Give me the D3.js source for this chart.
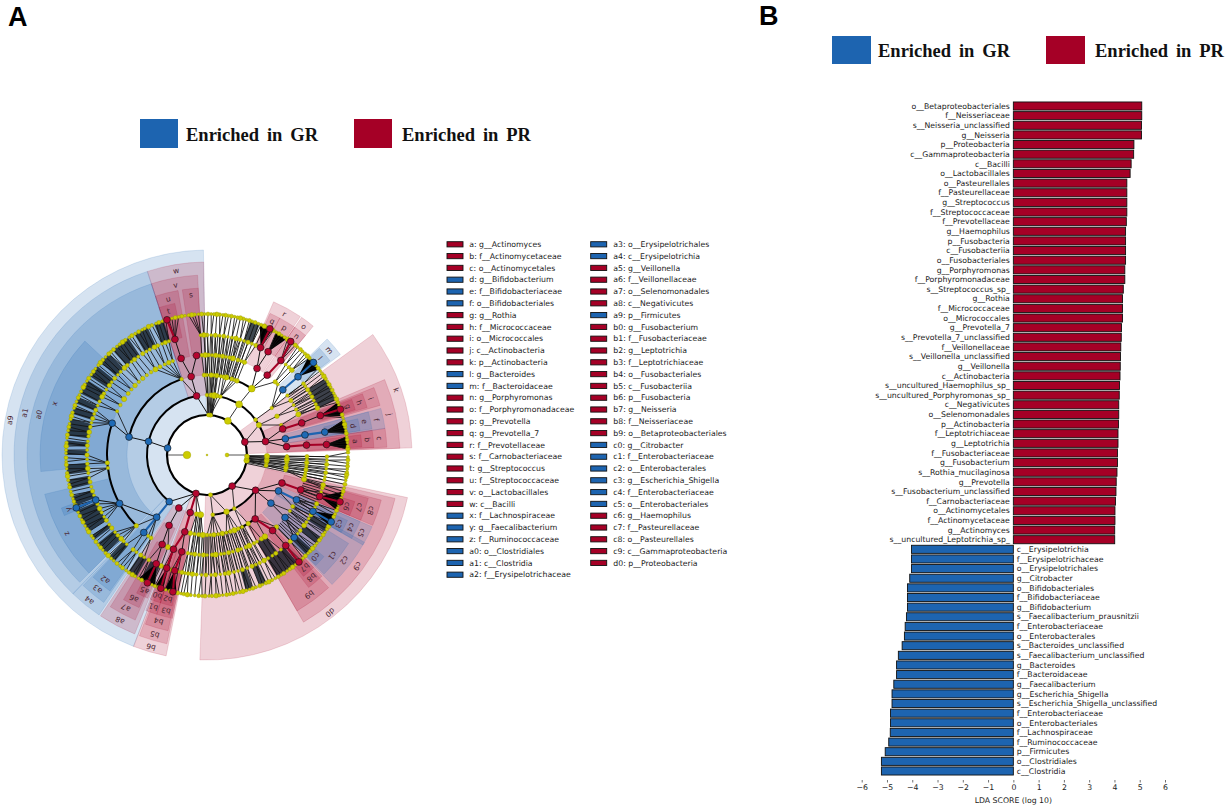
<!DOCTYPE html>
<html><head><meta charset="utf-8">
<script src="https://cdn.jsdelivr.net/npm/d3@7"></script>
<style>html,body{margin:0;padding:0;background:#fff}svg{display:block}text{font-family:"DejaVu Sans",sans-serif}</style>
</head><body><svg id="c" width="1225" height="805"></svg>
<script>
// ---------- Panel B data ----------
const prLabels=["o__Betaproteobacteriales","f__Neisseriaceae","s__Neisseria_unclassified","g__Neisseria","p__Proteobacteria","c__Gammaproteobacteria","c__Bacilli","o__Lactobacillales","o__Pasteurellales","f__Pasteurellaceae","g__Streptococcus","f__Streptococcaceae","f__Prevotellaceae","g__Haemophilus","p__Fusobacteria","c__Fusobacteriia","o__Fusobacteriales","g__Porphyromonas","f__Porphyromonadaceae","s__Streptococcus_sp_","g__Rothia","f__Micrococcaceae","o__Micrococcales","g__Prevotella_7","s__Prevotella_7_unclassified","f__Veillonellaceae","s__Veillonella_unclassified","g__Veillonella","c__Actinobacteria","s__uncultured_Haemophilus_sp_","s__uncultured_Porphyromonas_sp_","c__Negativicutes","o__Selenomonadales","p__Actinobacteria","f__Leptotrichiaceae","g__Leptotrichia","f__Fusobacteriaceae","g__Fusobacterium","s__Rothia_mucilaginosa","g__Prevotella","s__Fusobacterium_unclassified","f__Carnobacteriaceae","o__Actinomycetales","f__Actinomycetaceae","g__Actinomyces","s__uncultured_Leptotrichia_sp_"];
const prValues=[5.08,5.08,5.07,5.07,4.77,4.76,4.66,4.62,4.49,4.49,4.49,4.49,4.47,4.44,4.44,4.44,4.44,4.41,4.41,4.35,4.32,4.32,4.32,4.28,4.27,4.25,4.24,4.23,4.22,4.2,4.19,4.17,4.17,4.16,4.14,4.14,4.12,4.12,4.1,4.07,4.06,4.04,4.02,4.02,4.01,4.01];
const grLabels=["c__Erysipelotrichia","f__Erysipelotrichaceae","o__Erysipelotrichales","g__Citrobacter","o__Bifidobacteriales","f__Bifidobacteriaceae","g__Bifidobacterium","s__Faecalibacterium_prausnitzii","f__Enterobacteriaceae","o__Enterobacterales","s__Bacteroides_unclassified","s__Faecalibacterium_unclassified","g__Bacteroides","f__Bacteroidaceae","g__Faecalibacterium","g__Escherichia_Shigella","s__Escherichia_Shigella_unclassified","f__Enterobacteriaceae","o__Enterobacteriales","f__Lachnospiraceae","f__Ruminococcaceae","p__Firmicutes","o__Clostridiales","c__Clostridia"];
const grValues=[-4.03,-4.03,-4.03,-4.1,-4.19,-4.19,-4.19,-4.23,-4.28,-4.31,-4.4,-4.55,-4.62,-4.62,-4.73,-4.8,-4.8,-4.86,-4.86,-4.87,-4.93,-5.07,-5.22,-5.22];
const ldaTicks=[-6,-5,-4,-3,-2,-1,0,1,2,3,4,5,6];

// ---------- Panel A legend ----------
const legendCol1=[["a: g__Actinomyces","PR"],["b: f__Actinomycetaceae","PR"],["c: o__Actinomycetales","PR"],["d: g__Bifidobacterium","GR"],["e: f__Bifidobacteriaceae","GR"],["f: o__Bifidobacteriales","GR"],["g: g__Rothia","PR"],["h: f__Micrococcaceae","PR"],["i: o__Micrococcales","PR"],["j: c__Actinobacteria","PR"],["k: p__Actinobacteria","PR"],["l: g__Bacteroides","GR"],["m: f__Bacteroidaceae","GR"],["n: g__Porphyromonas","PR"],["o: f__Porphyromonadaceae","PR"],["p: g__Prevotella","PR"],["q: g__Prevotella_7","PR"],["r: f__Prevotellaceae","PR"],["s: f__Carnobacteriaceae","PR"],["t: g__Streptococcus","PR"],["u: f__Streptococcaceae","PR"],["v: o__Lactobacillales","PR"],["w: c__Bacilli","PR"],["x: f__Lachnospiraceae","GR"],["y: g__Faecalibacterium","GR"],["z: f__Ruminococcaceae","GR"],["a0: o__Clostridiales","GR"],["a1: c__Clostridia","GR"],["a2: f__Erysipelotrichaceae","GR"]];
const legendCol2=[["a3: o__Erysipelotrichales","GR"],["a4: c__Erysipelotrichia","GR"],["a5: g__Veillonella","PR"],["a6: f__Veillonellaceae","PR"],["a7: o__Selenomonadales","PR"],["a8: c__Negativicutes","PR"],["a9: p__Firmicutes","GR"],["b0: g__Fusobacterium","PR"],["b1: f__Fusobacteriaceae","PR"],["b2: g__Leptotrichia","PR"],["b3: f__Leptotrichiaceae","PR"],["b4: o__Fusobacteriales","PR"],["b5: c__Fusobacteriia","PR"],["b6: p__Fusobacteria","PR"],["b7: g__Neisseria","PR"],["b8: f__Neisseriaceae","PR"],["b9: o__Betaproteobacteriales","PR"],["c0: g__Citrobacter","GR"],["c1: f__Enterobacteriaceae","GR"],["c2: o__Enterobacterales","GR"],["c3: g__Escherichia_Shigella","GR"],["c4: f__Enterobacteriaceae","GR"],["c5: o__Enterobacteriales","GR"],["c6: g__Haemophilus","PR"],["c7: f__Pasteurellaceae","PR"],["c8: o__Pasteurellales","PR"],["c9: c__Gammaproteobacteria","PR"],["d0: p__Proteobacteria","PR"]];

// ---------- Panel A cladogram ----------
// wedges: label, taxonomic level, start angle, end angle (degrees, counter-clockwise from east), group
const cladeWedges=[
["d0",1,-92,-12,"PR"],["k",1,2,36,"PR"],["a9",1,91,249,"GR"],["b6",1,249,258.5,"PR"],
["c9",2,-60,-13,"PR"],["j",2,2,23,"PR"],["w",2,91,108,"PR"],["a1",2,108,226,"GR"],["a4",2,226,236,"GR"],["a8",2,236.5,248,"PR"],["b5",2,249.5,258,"PR"],
["b9",3,-60,-47.5,"PR"],["c2",3,-46,-29,"GR"],["c5",3,-30,-23.5,"GR"],["c8",3,-23,-14.5,"PR"],["c",3,2.5,8.5,"PR"],["f",3,8.5,15,"GR"],["i",3,16,22,"PR"],["v",3,93,108,"PR"],["a0",3,108,225,"GR"],["a3",3,226.5,235,"GR"],["a7",3,237.5,246.5,"PR"],["b4",3,250,257.5,"PR"],
["b8",4,-52.5,-46.5,"PR"],["c1",4,-45.5,-32,"GR"],["c4",4,-30,-23.5,"GR"],["c7",4,-23,-15,"PR"],["b",4,2.5,8.5,"PR"],["e",4,9,15,"GR"],["h",4,16.5,21.5,"PR"],["m",4,37,44,"GR"],["o",4,50.5,55.5,"PR"],["r",4,56,66.5,"PR"],["s",4,93,98.5,"PR"],["u",4,100,108,"PR"],["x",4,137,185.7,"GR"],["z",4,193.6,225,"GR"],["a2",4,227,234.5,"GR"],["a6",4,240,246,"PR"],["b1",4,248.5,252.5,"PR"],["b3",4,252.5,258,"PR"],
["b7",5,-51.5,-46.5,"PR"],["c0",5,-45.5,-41,"GR"],["c3",5,-30,-25,"GR"],["c6",5,-23,-17.5,"PR"],["a",5,3,7.5,"PR"],["d",5,9,13.5,"GR"],["g",5,17,21,"PR"],["l",5,37.5,43.5,"GR"],["n",5,50.5,55.5,"PR"],["p",5,55.5,62,"PR"],["q",5,62,66,"PR"],["t",5,102,108,"PR"],["y",5,200,203,"GR"],["a5",5,243,247.5,"PR"],["b0",5,248.5,252.5,"PR"],["b2",5,252.5,257,"PR"]
];
// enriched tree nodes: id, level, angle, group, parent id, thick branch to parent
const cladeNodes=[
["k",1,19,"PR",null,0],["d0",1,-51,"PR",null,0],["a9",1,170,"GR",null,0],["b6",1,254,"PR",null,0],
["j",2,13,"PR","k",0],["c9",2,-36,"PR","d0",0],["a1",2,167,"GR","a9",0],["w",2,100,"PR",null,0],["a4",2,231,"GR",null,0],["a8",2,242,"PR",null,0],["b5",2,253.8,"PR","b6",1],
["c",3,6,"PR","j",0],["f",3,11.7,"GR","j",0],["i",3,19,"PR","j",0],["b",4,5.7,"PR","c",1],["a",5,5,"PR","b",1],["e",4,11.6,"GR","f",1],["d",5,11,"GR","e",1],["h",4,18.7,"PR","i",1],["g",5,19.2,"PR","h",0],["sg",6,18.9,"PR","g",1],
["m",4,40.7,"GR",null,0],["l",5,40.7,"GR","m",1],["sl",6,41,"GR","l",1],
["r",4,60,"PR",null,0],["o",4,53,"PR",null,0],["q",5,63.5,"PR","r",0],["p",5,59.4,"PR","r",0],["n",5,52,"PR","o",1],["sq",6,63.5,"PR","q",1],["sn",6,53.6,"PR","n",1],
["v",3,101.4,"PR","w",0],["u",4,105,"PR","v",0],["s",4,96,"PR","v",0],["t",5,105.5,"PR","u",0],["st",6,106.5,"PR","t",1],
["a0",3,167,"GR","a1",0],["x",4,161.5,"GR","a0",0],["z",4,209,"GR",null,0],["y",5,202,"GR","z",0],["sy",6,202,"GR","y",1],
["a3",3,231,"GR","a4",1],["a2",4,230.8,"GR","a3",1],
["a7",3,241.7,"PR","a8",0],["a6",4,243.4,"PR","a7",0],["a5",5,245,"PR","a6",0],["sa",6,245,"PR","a5",1],
["b4",3,253.9,"PR","b5",1],["b3",4,255.4,"PR","b4",0],["b1",4,250.4,"PR","b4",1],["b2",5,254.4,"PR","b3",1],["b0",5,250.4,"PR","b1",1],["sb2",6,256,"PR","b2",1],["sb0",6,250.9,"PR","b0",1],
["b9",3,-53,"PR","c9",0],["b8",4,-49,"PR","b9",1],["b7",5,-49,"PR","b8",0],["sb7",6,-49.3,"PR","b7",1],
["c2",3,-37,"GR","c9",0],["c1",4,-38.7,"GR","c2",0],["c0",5,-43.4,"GR","c1",0],
["c5",3,-26.7,"GR","c9",0],["c4",4,-26.6,"GR","c5",1],["c3",5,-28,"GR","c4",0],["sc3",6,-28.3,"GR","c3",1],
["c8",3,-20.5,"PR","c9",0],["c7",4,-20.4,"PR","c8",1],["c6",5,-20.2,"PR","c7",0],["sc6",6,-19.4,"PR","c6",1]
];
// non-enriched (yellow) node angles for each taxonomic level
const yellowL1=[-85,-8,-5,-2,58.5,85,88];
const yellowL2=[-84.5,-71,-63,-100,-96,-10,-7,-5,-3,-1,90,86,83,80,77,57.7,36,30];
const yellowL3=[108.5,-102,-99,-96,-93,-90,-87.5,-85,-82,-79,-76,-73,-70,-67,-64,-59,-11,-9,-7,-5,-3,-1,22,29,36,68,70,72,76,78,80,83,85,87,90,92,56];
const yellowL4=[110,112.5,115,118,121,124,127,130,133,136,139,142,146,150,154,184.5,187.5,225,234,236,247,259,-99,-97,-94.5,-92,-90,-87,-85,-82,-80,-77.5,-75,-72,-70,-67,-65,-62,-60,-57,-54.6,-46,-34,-31,-14,-12,-10.5,-8.5,-6.5,-4.5,-2.5,-0.8,24,27,30,33,36.5,68,70,72,75,77,79,81,83,85,87,89,91,93,45,47];
const yellowL5=[108.5,110.3,112,114.2,116,118.5,120.3,122.4,125,127.2,129,131.6,133.5,136,138,140.3,142.6,144.5,147,149.2,151,153.5,155.6,158,160,162.3,164.4,166.5,169,171,173.4,175.5,177.6,180,182,184.2,186.5,188.6,191,193,195.4,197.5,199.6,204,206.5,208.6,211,213,215.4,217.5,220,222,224.3,226,228,232,234,236.5,238.5,241,247.5,249,251,253,256,258,259.5,-99,-97,-95,-92.6,-90.5,-88,-86,-83.6,-81.4,-79.5,-77,-75,-72.8,-70.4,-68,-66,-64,-61.6,-59.4,-57,-55,-52,-46,-41,-39,-36,-34,-32,-30,-26,-24,-18,-16,-14.5,-12,-10.5,-8.5,-6.5,-4.5,-2.5,-0.8,23,25,27,29,31,33,35,36.5,45,47,49,66,68,70,72,74,76,78,80,82,84,86,88,90,91.5,93];
const yellowL6=[108.5,110,111.2,113,114.5,116.3,117.4,119,120.6,122.2,123.5,125.4,126.8,128.3,129.7,131.5,133,134.2,136,137.6,139.1,140.4,142.3,143.7,145.2,147,148.4,150.1,151.3,153.2,154.8,156,157.7,159.4,160.6,162.5,164,165.3,167.2,168.5,170,171.8,173.1,175,176.4,178,179.3,181.1,182.7,184,185.6,187.4,188.7,190.3,192,193.2,195,196.5,198.1,199.3,201,202.8,204,205.6,207.3,208.5,210.2,211.7,213,215,216.2,218,219.6,221,222.4,224,225.5,227.2,228.6,230.3,232,233.2,235,236.4,238,239.3,241,242.4,244,245.6,247,248.3,250,251.6,253,254.8,256.2,258,259.4,-99.5,-98,-96.6,-95,-93.4,-92,-90.8,-89.2,-88,-86.3,-85,-83.6,-82,-80.7,-79.3,-78,-76.5,-75.2,-73.8,-72.4,-71,-69.7,-68,-66.8,-65.3,-64,-62.5,-61,-59.6,-58.2,-57,-55.4,-54,-52.6,-51,-49.8,-48.3,-47,-45.7,-44.2,-43,-41.5,-40,-38.8,-37.2,-36,-34.5,-33.2,-31.7,-30.4,-29,-27.6,-26,-24.8,-23.2,-22,-20.6,-19,-17.8,-16.4,-15,-13.6,-12,-10.4,-9.2,-8,-7,-5.8,-4.6,-3.4,-2,-0.8,1,2.5,3.6,5,6.2,7.4,8.8,10,11.4,12.6,14,15.3,16.6,18,19.4,20.7,22,23.4,24.8,26,27.4,28.8,30,31.3,32.7,34,35.3,36.6,38,39.4,40.7,42,43.4,44.6,46,47.3,48.5,50,51.2,52.6,54,55.2,56.6,58,59.3,60.6,62,63.4,64.7,66,67.4,68.6,70,71.3,72.5,73.8,75,76.3,77.5,78.7,80,81.2,82.4,83.5,84.8,86,87.2,88.3,89.6,91,92.2,93.5,95,96.2,97.5,99,100.3,101.6,103,104.4,105.7,107];
// black arcs: level, start, end
const treeArcs=[[1,0,360],[2,13,90],[2,100,231],[2,-84,-36],[3,56,93],[3,109.6,167],[3,-85,-53],[4,161.5,225]];
// dense dark stripes between two levels: level, start, end
const denseBlocks=[[6,108,112],[6,115,121],[6,124,132],[6,134,139],[6,141,146],[6,148,154],[6,156,158.5],[6,160,163],[6,165,172],[6,174,176],[6,178,180],[6,184,188],[6,190,194],[6,197,201],[6,203,213],[6,215,217],[6,219,224],[6,226,229],[6,236,240],[6,242,247],[6,-60,-50],[6,-45,-42],[6,-39,-36],[6,-33,-30],[6,-74,-71],[6,-68,-65],[6,23,33],[5,-60,-54],[6,68,72]];
// black leaf fans: apex angle at genus level, start, end at species level
const blackFans=[[59.4,55.5,60.5],[40.7,37.5,44],[5,2.2,7.5],[11,9,14.5],[19.2,16,22],[63.5,62.5,68],[254.4,252.5,257.5],[245,241,248.5],[250.4,248.5,252],[-20.2,-23,-15],[-28,-30,-25]];
// spans where lineages run as parallel radial stripes: inner level, outer level, start, end
const radialStripes=[[3,5,-100,-62],[4,5,-46,-13],[1,5,-12,-0.5],[3,5,70,92],[1,3,82,90],[4,5,23,37],[2,3,-100,-94]];

// ---------- layout ----------
const svg=d3.select("#c");
const RED="#a50026",BLUE="#1d64b0";
const colorOf=g=>g==="PR"?RED:BLUE;
const cx=207,cy=455;
const levelR=d3.scaleLinear().domain([1,2,3,4,5,6]).range([40,60,80,100,120,141]);
const bandOuter=d3.scaleOrdinal().domain([1,2,3,4,5]).range([205,193,180,167,155]);
const labelR=d3.scaleOrdinal().domain([1,2,3,4,5]).range([200,187,173,161,149]);
const rad=d=>d*Math.PI/180;
const pt=(level,ang)=>{const r=levelR(level);return [cx+r*Math.cos(rad(ang)),cy-r*Math.sin(rad(ang))];};
const arcGen=d3.arc();
const toArc=(a0,a1,r0,r1)=>arcGen({innerRadius:r0,outerRadius:r1,startAngle:rad(90-a1),endAngle:rad(90-a0)});
const A=svg.append("g");
const clade=A.append("g").attr("transform",`translate(${cx},${cy})`);

clade.selectAll("path.w").data([...cladeWedges].sort((p,q)=>p[1]-q[1])).join("path").attr("class","w")
 .attr("d",d=>toArc(d[2],d[3],levelR(d[1]),bandOuter(d[1])))
 .attr("fill",d=>colorOf(d[4])).attr("fill-opacity",.18)
 .attr("stroke",d=>colorOf(d[4])).attr("stroke-opacity",.2).attr("stroke-width",.7);
clade.selectAll("text.wl").data(cladeWedges).join("text").attr("class","wl")
 .attr("text-anchor","middle").attr("dy","0.35em").attr("font-size",7.5).attr("fill","#4a2530")
 .attr("transform",d=>{const m=(d[2]+d[3])/2,r=labelR(d[1]);return `translate(${r*Math.cos(rad(m))},${-r*Math.sin(rad(m))}) rotate(${90-m})`;})
 .text(d=>d[0]);

const T=A.append("g");
T.selectAll("path.dense").data(denseBlocks).join("path").attr("class","dense")
 .attr("transform",`translate(${cx},${cy})`)
 .attr("d",d=>toArc(d[1],d[2],levelR(d[0]-1),levelR(d[0]))).attr("fill","#15202b").attr("fill-opacity",.82);
T.selectAll("path.fan").data(blackFans).join("path").attr("class","fan")
 .attr("d",d=>{const p=pt(5,d[0]),q=pt(6,d[1]),s=pt(6,d[2]);return `M${p}L${q}L${s}Z`;}).attr("fill","#000");

// radial lineage stripes
const stripes=[];
radialStripes.forEach(s=>yellowL6.filter(a=>a>=s[2]&&a<=s[3]).forEach(a=>stripes.push({i:s[0],o:s[1],a})));
T.selectAll("line.rs").data(stripes).join("line").attr("class","rs")
 .attr("x1",d=>pt(d.i,d.a)[0]).attr("y1",d=>pt(d.i,d.a)[1]).attr("x2",d=>pt(d.o,d.a)[0]).attr("y2",d=>pt(d.o,d.a)[1])
 .attr("stroke","#111").attr("stroke-width",.85);

const yellowByLevel={1:yellowL1,2:yellowL2,3:yellowL3,4:yellowL4,5:yellowL5,6:yellowL6};
const enr=cladeNodes.map(d=>({id:d[0],level:d[1],ang:d[2],g:d[3],par:d[4],thick:d[5]}));
const enrById=new Map(enr.map(d=>[d.id,d]));
const diff=(a,b)=>Math.abs(((a-b)%360+540)%360-180);
const nearestParent=(level,ang)=>{
  const cands=[...yellowByLevel[level],...enr.filter(e=>e.level===level).map(e=>e.ang)];
  return d3.least(cands,c=>diff(c,ang));
};
const links=[];
for(let lv=2;lv<=6;lv++){
  yellowByLevel[lv].forEach(a=>{const pa=nearestParent(lv-1,a);if(diff(pa,a)<=(lv>=5?5:14))links.push({lv,a,pa,col:"#111",w:.85});});
}
enr.forEach(e=>{
  if(e.level===1)return;
  const pa=e.par?enrById.get(e.par).ang:nearestParent(e.level-1,e.ang);
  if(diff(pa,e.ang)<=25)links.push({lv:e.level,a:e.ang,pa,col:e.thick?colorOf(e.g):"#111",w:e.thick?2.1:1,thick:e.thick});
});
const lineXY=d3.line();
T.selectAll("path.lk").data(links.sort((p,q)=>(p.thick||0)-(q.thick||0))).join("path").attr("class","lk")
 .attr("d",d=>lineXY([pt(d.lv,d.a),pt(d.lv-1,d.pa)])).attr("fill","none").attr("stroke",d=>d.col).attr("stroke-width",d=>d.w);
const centreNodes=[[180,20,3.8],[0,20,1.9],[0,0,.9]];
T.selectAll("line.st").data(centreNodes.slice(0,2)).join("line").attr("class","st")
 .attr("x1",d=>cx+40*Math.cos(rad(d[0]))).attr("x2",d=>cx+d[1]*Math.cos(rad(d[0])))
 .attr("y1",cy).attr("y2",cy).attr("stroke","#555").attr("stroke-width",1);
T.selectAll("path.ar").data(treeArcs).join("path").attr("class","ar")
 .attr("transform",`translate(${cx},${cy})`)
 .attr("d",d=>{const r=levelR(d[0]);const w=d[0]===1?1.1:1;return toArc(d[1],d[2],r-w,r+w);}).attr("fill","#000");

const yFill="#cccc00",yStroke="#9a9a00";
const yR={1:2.4,2:2.3,3:2.1,4:2,5:1.9,6:1.8};
const dotScale=[.85,1.15,.8,1,1.3,.9,.8,1.1];
const bigYellow=[[1,58.5,3.4],[2,57.7,3.4],[3,56,3.4],[2,-71,2.8],[4,-54.6,2.8]];
const dots=[];
for(let lv=1;lv<=6;lv++)yellowByLevel[lv].forEach((a,i)=>{
  const b=bigYellow.find(v=>v[0]===lv&&v[1]===a);
  dots.push({p:pt(lv,a),r:b?b[2]:yR[lv]*dotScale[i%dotScale.length]});
});
T.selectAll("circle.y").data(dots).join("circle").attr("class","y")
 .attr("cx",d=>d.p[0]).attr("cy",d=>d.p[1]).attr("r",d=>d.r)
 .attr("fill",yFill).attr("stroke",yStroke).attr("stroke-width",.45);
T.selectAll("circle.cn").data(centreNodes).join("circle").attr("class","cn")
 .attr("cx",d=>cx+d[1]*Math.cos(rad(d[0]))).attr("cy",cy).attr("r",d=>d[2])
 .attr("fill",yFill).attr("stroke",yStroke).attr("stroke-width",.4);
T.selectAll("circle.e").data(enr).join("circle").attr("class","e")
 .attr("cx",d=>pt(d.level,d.ang)[0]).attr("cy",d=>pt(d.level,d.ang)[1]).attr("r",3.4)
 .attr("fill",d=>d.g==="PR"?"#b5052f":"#1f6ab5").attr("stroke","#111").attr("stroke-width",.6);

const legRow=d3.scaleLinear().domain([0,1]).range([244.3,256.1]);
const drawLeg=(rows,xs,xt)=>{
  const g=A.append("g");
  g.selectAll("rect").data(rows).join("rect").attr("x",xs).attr("width",16).attr("height",5.2)
   .attr("y",(d,i)=>legRow(i)-2.6).attr("fill",d=>colorOf(d[1])).attr("stroke","#111").attr("stroke-width",.9);
  g.selectAll("text").data(rows).join("text").attr("x",xt).attr("y",(d,i)=>legRow(i)).attr("dy","0.35em")
   .attr("font-size",7.75).attr("fill","#222").text(d=>d[0]);
};
drawLeg(legendCol1,447,469.3);
drawLeg(legendCol2,590.7,613.3);

const groupLegend=[["Enriched in GR","GR"],["Enriched in PR","PR"]];
const drawGroup=(xs,xt,top,h,w,base)=>{
  groupLegend.forEach((d,i)=>{
    svg.append("rect").attr("x",xs[i]).attr("y",top).attr("width",w).attr("height",h).attr("fill",colorOf(d[1]));
    svg.append("text").attr("x",xt[i]).attr("y",base).text(d[0]).attr("font-size",18.5).attr("font-weight","bold")
      .attr("word-spacing",3.3).attr("fill","#111").style("font-family",'"Liberation Serif",serif');
  });
};
drawGroup([140,354],[186,402],119,29,38,140.5);
drawGroup([832,1046],[878,1095],36,28,39,57);
[["A",8,26],["B",759,25]].forEach(d=>svg.append("text").attr("x",d[1]).attr("y",d[2]).text(d[0])
  .attr("font-size",27).attr("font-weight","bold").attr("fill","#000").style("font-family",'"Liberation Sans",sans-serif'));

// ---------- Panel B ----------
const allLabels=[...prLabels,...grLabels],allValues=[...prValues,...grValues];
const x=d3.scaleLinear().domain([-6,6]).range([861.7,1165]);
const y=d3.scaleBand().domain(d3.range(allLabels.length)).range([101.2,775.8]).paddingInner(.16).paddingOuter(.08);
const B=svg.append("g");
B.selectAll("rect").data(allValues).join("rect")
 .attr("x",d=>Math.min(x(d),x(0))).attr("width",d=>Math.abs(x(d)-x(0)))
 .attr("y",(d,i)=>y(i)).attr("height",y.bandwidth())
 .attr("fill",d=>d>0?RED:BLUE).attr("stroke","#111").attr("stroke-width",.9);
B.selectAll("text").data(allLabels).join("text")
 .attr("x",(d,i)=>allValues[i]>0?x(0)-3.5:x(0)+3.5).attr("text-anchor",(d,i)=>allValues[i]>0?"end":"start")
 .attr("y",(d,i)=>y(i)+y.bandwidth()/2).attr("dy","0.35em").attr("font-size",7.75).attr("fill","#222").text(d=>d);
const ax=svg.append("g").attr("transform","translate(0,780)")
 .call(d3.axisBottom(x).tickValues(ldaTicks).tickSize(2.5).tickPadding(2).tickFormat(d3.format("d")));
ax.select(".domain").remove();
ax.selectAll("line").attr("stroke","#333").attr("stroke-width",.7);
ax.selectAll("text").attr("font-size",7.75).attr("fill","#222");
svg.append("text").attr("x",x(0)).attr("y",802.5).attr("text-anchor","middle").attr("font-size",7.75).attr("fill","#222").text("LDA SCORE (log 10)");
</script></body></html>
